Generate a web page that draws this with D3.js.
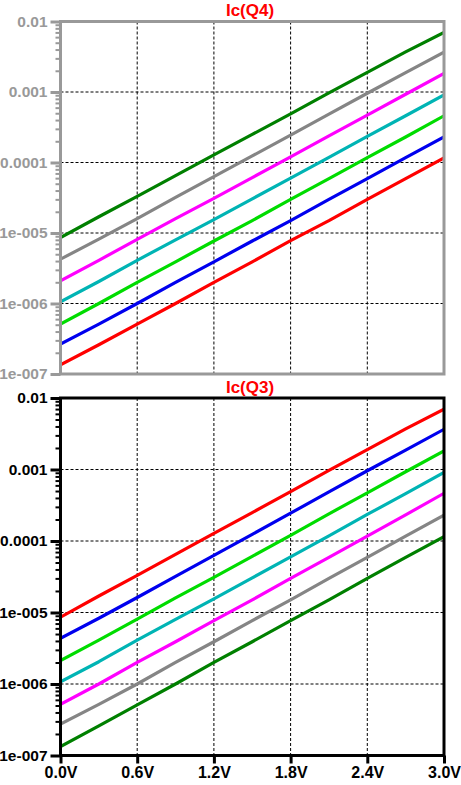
<!DOCTYPE html>
<html>
<head>
<meta charset="utf-8">
<script src="https://cdn.jsdelivr.net/npm/d3@7"></script>
<style>
  html, body { margin: 0; padding: 0; background: #fff; }
  svg { display: block; }
  text { font-family: "Liberation Sans", Arial, sans-serif; font-weight: bold; }
</style>
</head>
<body>
<svg id="chart" width="461" height="785"></svg>
<script>
// ---------------- data ----------------
const voltages = [0, 0.3, 0.6, 0.9, 1.2, 1.5, 1.8, 2.1, 2.4, 2.7, 3.0];

// Panel 1: Ic(Q4)
const q4Red     = [1.35e-7, 2.6e-7, 5.1e-7, 1.0e-6, 2.0e-6, 3.9e-6, 7.8e-6, 1.5e-5, 3.0e-5, 5.9e-5, 1.16e-4];
const q4Blue    = [2.65e-7, 5.1e-7, 1.0e-6, 2.0e-6, 3.9e-6, 7.7e-6, 1.5e-5, 3.0e-5, 5.9e-5, 1.17e-4, 2.3e-4];
const q4Green   = [5.1e-7, 1.0e-6, 2.0e-6, 3.9e-6, 7.7e-6, 1.5e-5, 3.0e-5, 5.9e-5, 1.17e-4, 2.3e-4, 4.6e-4];
const q4Cyan    = [1.06e-6, 2.05e-6, 4.1e-6, 8.0e-6, 1.55e-5, 3.05e-5, 6.0e-5, 1.18e-4, 2.35e-4, 4.6e-4, 9.1e-4];
const q4Magenta = [2.1e-6, 4.1e-6, 8.1e-6, 1.6e-5, 3.1e-5, 6.1e-5, 1.2e-4, 2.38e-4, 4.7e-4, 9.3e-4, 1.84e-3];
const q4Gray    = [4.25e-6, 8.2e-6, 1.6e-5, 3.2e-5, 6.3e-5, 1.24e-4, 2.45e-4, 4.85e-4, 9.6e-4, 1.88e-3, 3.66e-3];
const q4DkGreen = [8.6e-6, 1.7e-5, 3.3e-5, 6.5e-5, 1.28e-4, 2.5e-4, 4.9e-4, 9.7e-4, 1.9e-3, 3.7e-3, 7.0e-3];

// Panel 2: Ic(Q3)
const q3Red     = [8.6e-6, 1.7e-5, 3.3e-5, 6.5e-5, 1.28e-4, 2.5e-4, 4.9e-4, 9.7e-4, 1.9e-3, 3.7e-3, 7.0e-3];
const q3Blue    = [4.35e-6, 8.3e-6, 1.62e-5, 3.2e-5, 6.3e-5, 1.24e-4, 2.45e-4, 4.85e-4, 9.6e-4, 1.87e-3, 3.65e-3];
const q3Green   = [2.12e-6, 4.1e-6, 8.1e-6, 1.6e-5, 3.1e-5, 6.1e-5, 1.2e-4, 2.4e-4, 4.7e-4, 9.3e-4, 1.82e-3];
const q3Cyan    = [1.07e-6, 2.05e-6, 4.1e-6, 8.0e-6, 1.55e-5, 3.05e-5, 6.0e-5, 1.18e-4, 2.35e-4, 4.6e-4, 9.1e-4];
const q3Magenta = [5.2e-7, 1.0e-6, 2.0e-6, 3.9e-6, 7.7e-6, 1.5e-5, 3.0e-5, 5.9e-5, 1.17e-4, 2.32e-4, 4.65e-4];
const q3Gray    = [2.75e-7, 5.2e-7, 1.0e-6, 2.0e-6, 3.9e-6, 7.7e-6, 1.5e-5, 3.0e-5, 5.9e-5, 1.17e-4, 2.3e-4];
const q3DkGreen = [1.33e-7, 2.6e-7, 5.1e-7, 1.0e-6, 2.0e-6, 3.9e-6, 7.7e-6, 1.5e-5, 3.0e-5, 5.9e-5, 1.15e-4];

const seriesColors = ["#ff0000", "#0000ee", "#00dc00", "#00b4b4", "#ff00ff", "#858585", "#008000"];

const yTickValues = [1e-2, 1e-3, 1e-4, 1e-5, 1e-6, 1e-7];
const yTickLabels = ["0.01", "0.001", "0.0001", "1e-005", "1e-006", "1e-007"];
const yGridValues = [1e-3, 1e-4, 1e-5, 1e-6];
const xTickValues = [0, 0.6, 1.2, 1.8, 2.4, 3.0];
const xTickLabels = ["0.0V", "0.6V", "1.2V", "1.8V", "2.4V", "3.0V"];
const xGridValues = [0.6, 1.2, 1.8, 2.4];
const panelTitles = ["Ic(Q4)", "Ic(Q3)"];

// ---------------- layout ----------------
const svg = d3.select("#chart");
const left = 60.5, right = 444;
const panels = [
  { title: panelTitles[0], top: 21.5, bottom: 374, frame: "#999999", label: "#999999",
    series: [q4Red, q4Blue, q4Green, q4Cyan, q4Magenta, q4Gray, q4DkGreen], xLabels: false },
  { title: panelTitles[1], top: 398, bottom: 755.5, frame: "#000000", label: "#000000",
    series: [q3Red, q3Blue, q3Green, q3Cyan, q3Magenta, q3Gray, q3DkGreen], xLabels: true }
];

const x = d3.scaleLinear().domain([0, 3]).range([left, right]);

// minor log ticks
const minorValues = [];
for (let e = -7; e < -2; e++) {
  for (let m = 2; m <= 9; m++) minorValues.push(m * Math.pow(10, e));
}

panels.forEach((p, pi) => {
  const y = d3.scaleLog().domain([1e-7, 1e-2]).range([p.bottom, p.top]);
  const g = svg.append("g");

  // clip
  const clipId = "clip" + pi;
  svg.append("clipPath").attr("id", clipId)
    .append("rect")
    .attr("x", left).attr("y", p.top)
    .attr("width", right - left).attr("height", p.bottom - p.top);

  // grid
  g.append("g").selectAll("line").data(xGridValues).join("line")
    .attr("x1", d => x(d)).attr("x2", d => x(d))
    .attr("y1", p.top).attr("y2", p.bottom)
    .attr("stroke", "#000").attr("stroke-width", 1)
    .attr("stroke-dasharray", "3,2");
  g.append("g").selectAll("line").data(yGridValues).join("line")
    .attr("y1", d => y(d)).attr("y2", d => y(d))
    .attr("x1", left).attr("x2", right)
    .attr("stroke", "#000").attr("stroke-width", 1)
    .attr("stroke-dasharray", "3,2");

  // traces
  const line = d3.line()
    .x((d, i) => x(voltages[i]))
    .y(d => y(d));
  g.append("g").attr("clip-path", `url(#${clipId})`)
    .selectAll("path").data(p.series).join("path")
    .attr("d", d => line(d))
    .attr("fill", "none")
    .attr("stroke", (d, i) => seriesColors[i])
    .attr("stroke-width", 3.2)
    .attr("stroke-linejoin", "round");

  // y axis major ticks + labels
  const yAxis = d3.axisLeft(y)
    .tickValues(yTickValues)
    .tickSize(10)
    .tickPadding(3)
    .tickFormat((d, i) => yTickLabels[i]);
  const ya = g.append("g").attr("transform", `translate(${left},0)`).call(yAxis);
  ya.select(".domain").remove();
  ya.selectAll(".tick line").attr("stroke", p.frame).attr("stroke-width", 3);
  ya.selectAll(".tick text")
    .attr("fill", p.label)
    .style("font-size", "15.5px")
    .style("font-weight", "bold")
    .style("font-family", "'Liberation Sans', Arial, sans-serif");

  // minor ticks
  const yMinor = d3.axisLeft(y).tickValues(minorValues).tickSize(5).tickFormat("");
  const ym = g.append("g").attr("transform", `translate(${left},0)`).call(yMinor);
  ym.select(".domain").remove();
  ym.selectAll(".tick line").attr("stroke", p.frame).attr("stroke-width", 2);

  // x axis
  if (p.xLabels) {
    const xAxis = d3.axisBottom(x)
      .tickValues(xTickValues)
      .tickSize(8)
      .tickPadding(3)
      .tickFormat((d, i) => xTickLabels[i]);
    const xa = g.append("g").attr("transform", `translate(0,${p.bottom})`).call(xAxis);
    xa.select(".domain").remove();
    xa.selectAll(".tick line").attr("stroke", p.frame).attr("stroke-width", 3);
    xa.selectAll(".tick text")
      .attr("fill", p.label)
      .style("font-size", "16px")
      .style("font-weight", "bold")
      .style("font-family", "'Liberation Sans', Arial, sans-serif");
  }

  // frame
  g.append("rect")
    .attr("x", left).attr("y", p.top)
    .attr("width", right - left).attr("height", p.bottom - p.top)
    .attr("fill", "none").attr("stroke", p.frame).attr("stroke-width", 3);

  // title
  g.append("text")
    .attr("x", 250).attr("y", p.top - 5.5)
    .attr("text-anchor", "middle")
    .attr("fill", "#ff0000")
    .style("font-size", "17px")
    .text(p.title);
});
</script>
</body>
</html>
